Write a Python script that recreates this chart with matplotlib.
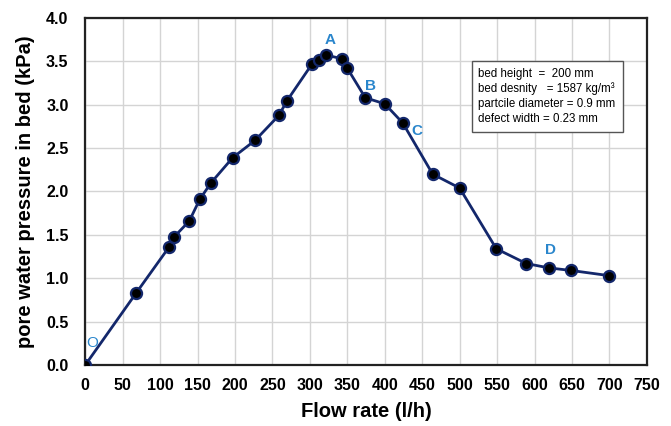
import numpy as np
import matplotlib.pyplot as plt

plt.rcParams['font.family'] = ['Liberation Sans', 'DejaVu Sans']

# measured flow rate (l/h) and pore water pressure (kPa)
flow = [0, 68, 112, 118, 139, 153, 168, 197, 227, 259, 269, 303, 312, 322,
        343, 350, 374, 400, 424, 464, 500, 549, 589, 619, 649, 700]
pressure = [0.0, 0.83, 1.36, 1.47, 1.66, 1.91, 2.10, 2.39, 2.59, 2.88, 3.04,
            3.47, 3.52, 3.57, 3.53, 3.42, 3.08, 3.01, 2.79, 2.20, 2.04, 1.34,
            1.17, 1.12, 1.09, 1.03]

# stage labels along the curve
stage_names = ['O', 'A', 'B', 'C', 'D']
stage_x = [9, 327, 381, 443, 622]
stage_y = [0.25, 3.75, 3.21, 2.70, 1.33]

info = ("bed height  =  200 mm\n"
        "bed desnity   = 1587 kg/m\u00b3\n"
        "partcile diameter = 0.9 mm\n"
        "defect width = 0.23 mm")

fig = plt.figure(figsize=(6.71, 4.26), dpi=100)
ax = fig.add_axes([0.127, 0.143, 0.837, 0.815])

ax.plot(flow, pressure, color='#13276b', lw=2, marker='o', ms=8,
        mfc='black', mec='#13276b', mew=1.6, zorder=3)

for name, x, y in zip(stage_names, stage_x, stage_y):
    ax.text(x, y, name, color='#2a86cc', fontsize=11,
            fontweight='normal' if name == 'O' else 'bold',
            ha='center', va='center')

ax.set_xlim(0, 750)
ax.set_ylim(0, 4.0)
ax.set_xticks(np.arange(0, 751, 50))
ax.set_yticks(np.arange(0, 4.01, 0.5))
ax.set_yticklabels(['%.1f' % v for v in np.arange(0, 4.01, 0.5)])
ax.tick_params(length=0, labelsize=11.5)
ax.tick_params(axis='x', pad=9)
ax.tick_params(axis='y', pad=12)
for lab in ax.get_xticklabels() + ax.get_yticklabels():
    lab.set_fontweight('bold')
ax.grid(True, color='#d4d4d4', lw=1)
ax.set_axisbelow(True)
for sp in ax.spines.values():
    sp.set_linewidth(1.6)
    sp.set_color('#222222')

ax.set_xlabel('Flow rate (l/h)', fontsize=14.5, fontweight='bold', labelpad=7)
ax.set_ylabel('pore water pressure in bed (kPa)', fontsize=14.5,
              fontweight='bold', labelpad=8)

fig.text(0.713, 0.774, info, fontsize=8.3, va='center', ha='left',
         linespacing=1.3,
         bbox=dict(boxstyle='square,pad=0.6', fc='white', ec='#555555', lw=1))

fig.savefig('out.png', dpi=100)
